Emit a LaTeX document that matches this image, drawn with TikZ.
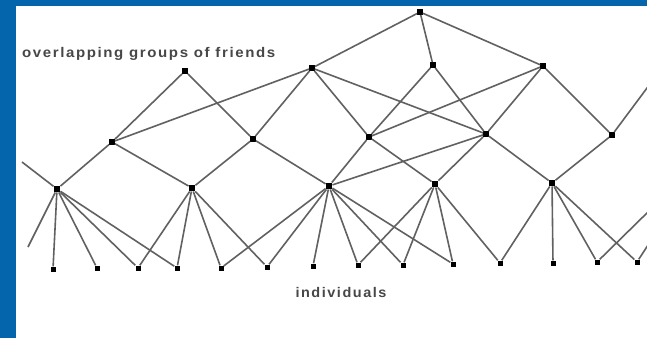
\documentclass[tikz,border=0pt]{standalone}
\usepackage{fontspec}
\usepackage{graphicx}
\setmainfont{Liberation Sans}
\newfontfamily\lblfont[LetterSpace=10.7]{Liberation Sans Bold}
\definecolor{framecol}{RGB}{4,100,172}
\begin{document}
\begin{tikzpicture}[x=1pt,y=-1pt,
  edge/.style={draw=black!62,line width=1.6pt},
  big/.style={rectangle,fill=black,inner sep=0pt,minimum size=6.5pt},
  mid/.style={rectangle,fill=black,inner sep=0pt,minimum size=5.5pt},
  ind/.style={rectangle,fill=black,inner sep=0pt,minimum size=5pt},
  lbl/.style={font=\lblfont\fontsize{14}{17}\selectfont,text=black!72,inner sep=0pt}]
\useasboundingbox (0,0) rectangle (647,338);
\fill[framecol] (0,0) rectangle (647,338);
\fill[white] (16,6) rectangle (647,338);
\clip (16,6) rectangle (647,338);
% top
\node[mid] (T) at (420,12) {};
% level 2
\node[mid] (A) at (185,71) {};
\node[mid] (B) at (312,68) {};
\node[mid] (C) at (433,65) {};
\node[mid] (D) at (543,66) {};
% level 3
\node[mid] (E) at (112,142) {};
\node[mid] (F) at (253,139) {};
\node[mid] (G) at (369,137) {};
\node[mid] (H) at (486,134) {};
\node[mid] (I) at (612,135) {};
% level 4
\node[big] (J) at (57,189) {};
\node[big] (K) at (192,188) {};
\node[big] (L) at (329,186) {};
\node[big] (M) at (435,184) {};
\node[big] (N) at (552,183) {};
% individuals
\node[ind] (P1) at (53,269) {};
\node[ind] (P2) at (97,268) {};
\node[ind] (P3) at (138,268) {};
\node[ind] (P4) at (177,268) {};
\node[ind] (P5) at (221,268) {};
\node[ind] (P6) at (267,267) {};
\node[ind] (P7) at (313,266) {};
\node[ind] (P8) at (358,265) {};
\node[ind] (P9) at (403,265) {};
\node[ind] (P10) at (453,264) {};
\node[ind] (P11) at (500,263) {};
\node[ind] (P12) at (553,263) {};
\node[ind] (P13) at (597,262) {};
\node[ind] (P14) at (637,262) {};
% free ends
\coordinate (jl) at (22,162);
\coordinate (jd) at (28,247);
\coordinate (ri) at (650,84);
\coordinate (r13) at (650,210);
\coordinate (r14) at (650,242);
% labels
\node[lbl,anchor=base west] (t1) at (22,57) {\resizebox{253pt}{\height}{overlapping groups of friends}};
\node[lbl,anchor=base] (t2) at (341,297) {\resizebox{91pt}{\height}{individuals}};
% edges
\foreach \a/\b in {T/B,T/C,T/D,A/E,A/F,B/E,B/F,B/G,B/H,C/G,C/H,D/G,D/H,D/I,
  E/J,E/K,F/K,F/L,G/L,G/M,H/L,H/M,H/N,I/N,I/ri,J/jl,J/jd,
  J/P1,J/P2,J/P3,J/P4,K/P3,K/P4,K/P5,K/P6,
  L/P5,L/P6,L/P7,L/P8,L/P9,L/P10,M/P8,M/P9,M/P10,M/P11,
  N/P11,N/P12,N/P13,N/P14,P13/r13,P14/r14}
  \draw[edge] (\a) -- (\b);
\end{tikzpicture}
\end{document}
